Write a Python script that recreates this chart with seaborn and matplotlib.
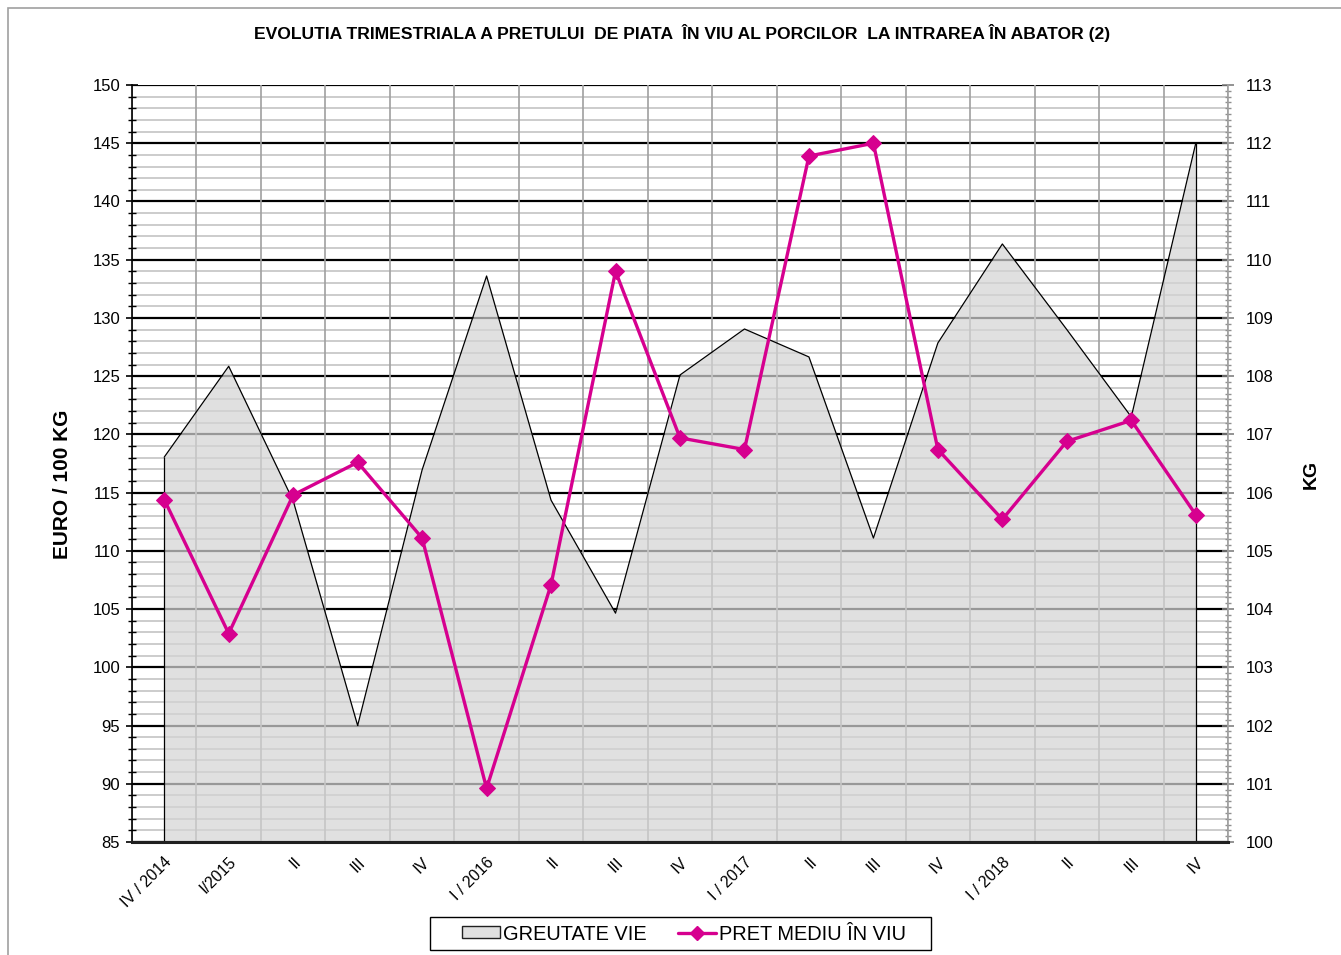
import numpy as np
import matplotlib
matplotlib.use('Agg')
import matplotlib.pyplot as plt
from matplotlib.patches import Rectangle
import seaborn as sns

# quarters
quarters = ['IV / 2014', 'I/2015', 'II', 'III', 'IV', 'I / 2016', 'II', 'III', 'IV',
            'I / 2017', 'II', 'III', 'IV', 'I / 2018', 'II', 'III', 'IV']
# average live price, EURO / 100 kg (left axis)
price = [114.4, 102.9, 114.8, 117.6, 111.1, 89.6, 107.1, 134.0, 119.7,
         118.7, 143.9, 145.0, 118.7, 112.7, 119.4, 121.2, 113.1]
# live weight, kg (right axis)
weight = [106.61, 108.17, 105.86, 102.0, 106.39, 109.72, 105.87, 103.93, 108.02,
          108.81, 108.33, 105.22, 108.57, 110.27, 108.8, 107.3, 112.0]

title = 'EVOLUTIA TRIMESTRIALA A PRETULUI  DE PIATA  ÎN VIU AL PORCILOR  LA INTRAREA ÎN ABATOR (2)'
magenta = '#D6008F'

sns.set_theme(style='white')
plt.rcParams['font.family'] = ['Liberation Sans', 'DejaVu Sans']
plt.rcParams['text.color'] = 'black'
plt.rcParams['xtick.labelcolor'] = 'black'
plt.rcParams['ytick.labelcolor'] = 'black'

fig = plt.figure(figsize=(13.41, 9.55), dpi=100)
ax = fig.add_axes([132 / 1341, 1 - 842 / 955, (1228 - 132) / 1341, (842 - 85) / 955])
ax2 = ax.twinx()
ax.set_zorder(2)
ax2.set_zorder(1)
ax.patch.set_visible(False)

x = np.arange(len(quarters))

# grid (on the back axis, kg units: 1 kg = 5 EURO)
for v in np.arange(100, 113.01, 0.2):
    if abs(v - round(v)) < 1e-6:
        ax2.axhline(v, color='black', lw=1.6, zorder=0)
    else:
        ax2.axhline(v, color='#c8c8c8', lw=1.3, zorder=0)
for b in np.arange(-0.5, len(quarters), 1):
    ax2.axvline(b, color='#a0a0a0', lw=1.2, zorder=0)

# area: live weight
ax2.fill_between(x, 100, weight, color='#d4d4d4', alpha=0.72, lw=0, zorder=1)
sns.lineplot(x=x, y=weight, ax=ax2, color='black', lw=0.9, zorder=2)
ax2.vlines([x[0], x[-1]], 100, [weight[0], weight[-1]], color='black', lw=0.9, zorder=2)

# line: price
sns.lineplot(x=x, y=price, ax=ax, color=magenta, lw=2.4, marker='D',
             markersize=8, markeredgecolor=magenta, zorder=5)

ax.set_xlim(-0.5, len(quarters) - 0.5)
ax.set_ylim(85, 150)
ax2.set_ylim(100, 113)

ax.set_yticks(np.arange(85, 151, 5))
ax.set_yticks(np.arange(85, 151, 1), minor=True)
ax.tick_params(axis='y', which='major', direction='inout', length=9, width=1.2,
               color='black', labelsize=12, pad=4, left=True)
ax.tick_params(axis='y', which='minor', direction='inout', length=6, width=1,
               color='black', left=True)

ax.set_xticks(np.arange(-0.5, len(quarters), 1))
ax.set_xticklabels([])
ax.set_xticks(x, minor=True)
ax.set_xticklabels(quarters, minor=True, rotation=45, ha='right', va='top',
                   rotation_mode='anchor')
ax.tick_params(axis='x', which='major', direction='inout', length=9, width=1.2,
               color='black', bottom=True)
ax.tick_params(axis='x', which='minor', length=0, labelsize=11.5, pad=9)

ax2.set_yticks(np.arange(100, 114, 1))
ax2.set_yticks(np.arange(100, 113.01, 0.1), minor=True)
ax2.tick_params(axis='y', which='major', direction='inout', length=9, width=1.2,
                color='#808080', labelsize=12, pad=8, right=True)
ax2.tick_params(axis='y', which='minor', direction='inout', length=5, width=1,
                color='#909090', right=True)
ax2.set_xticks([])

ax.set_xlabel('')
ax.set_ylabel('')
ax2.set_ylabel('')

for a in (ax, ax2):
    for s in a.spines.values():
        s.set_visible(False)
ax.spines['left'].set_visible(True)
ax.spines['left'].set_color('black')
ax.spines['left'].set_linewidth(1.2)
ax.spines['bottom'].set_visible(True)
ax.spines['bottom'].set_color('#202020')
ax.spines['bottom'].set_linewidth(2.2)
ax2.spines['right'].set_visible(True)
ax2.spines['right'].set_color('#a0a0a0')
ax2.spines['right'].set_linewidth(1.2)

fig.text(682 / 1341, 1 - 33 / 955, title, ha='center', va='center',
         fontsize=12.6, fontweight='bold')
fig.text(63 / 1341, 1 - 484 / 955, 'EURO / 100 KG', rotation=90, ha='center',
         va='center', fontsize=15, fontweight='bold')
fig.text(1311 / 1341, 1 - 474 / 955, 'KG', rotation=90, ha='center',
         va='center', fontsize=14, fontweight='bold')

# legend (frame drawn separately to get the wide side padding)
h_area = Rectangle((0, 0), 1, 1, facecolor='#e0e0e0', edgecolor='#202020', lw=1)
h_line = plt.Line2D([], [], color=magenta, lw=2.4, marker='D', markersize=7)
leg = fig.legend([h_area, h_line], ['GREUTATE VIE', 'PRET MEDIU ÎN VIU'],
                 loc='center', bbox_to_anchor=(684 / 1341, 1 - 934 / 955), ncol=2,
                 fontsize=14.4, frameon=False, handlelength=1.9, handleheight=0.55,
                 columnspacing=1.6, handletextpad=0.15, borderpad=0.3,
                 borderaxespad=0)
fig.add_artist(Rectangle((430 / 1341, 1 - 950 / 955), 501 / 1341, 33 / 955,
                         fill=False, edgecolor='black', lw=1.0,
                         transform=fig.transFigure))

# outer chart border (left / top)
fig.add_artist(Rectangle((8 / 1341, -0.1), 1.1, 1.1 - 8 / 955, fill=False,
                         edgecolor='#a0a0a0', lw=1.2, transform=fig.transFigure))

fig.savefig('out.png', dpi=100)
